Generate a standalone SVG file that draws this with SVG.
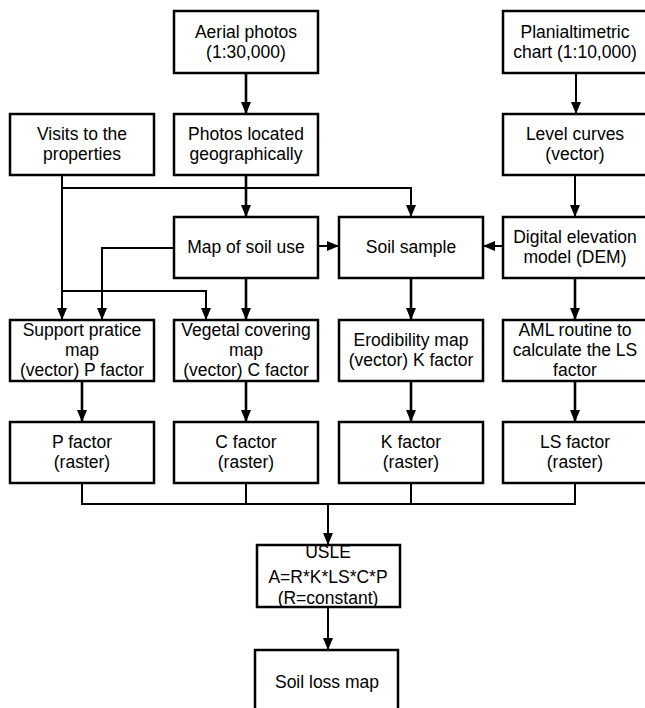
<svg xmlns="http://www.w3.org/2000/svg" width="645" height="708" viewBox="0 0 645 708">
<style>
.box{fill:#fff;stroke:#000;stroke-width:2.5}
.t{font-family:"Liberation Sans",Arial,sans-serif;font-size:17.5px;fill:#000;text-anchor:middle}
.c{fill:none;stroke:#000;stroke-width:2}
.c3{fill:none;stroke:#000;stroke-width:2.6}
</style>
<defs>
<marker id="ah" viewBox="0 0 12 10" refX="12" refY="5" markerWidth="12" markerHeight="10" markerUnits="userSpaceOnUse" orient="auto">
<path d="M0,0 L12,5 L0,10 z" fill="#000"/>
</marker>
</defs>
<rect width="645" height="708" fill="#fff"/>
<g id="connectors">
<path class="c3" d="M246,73 V114" marker-end="url(#ah)"/>
<path class="c" d="M576,73 V114" marker-end="url(#ah)"/>
<path class="c" d="M62,175 V320" marker-end="url(#ah)"/>
<path class="c" d="M62,188 H411 V217" marker-end="url(#ah)"/>
<path class="c3" d="M246,175 V217" marker-end="url(#ah)"/>
<path class="c" d="M575,175 V217" marker-end="url(#ah)"/>
<path class="c" d="M318,246 H339" marker-end="url(#ah)"/>
<path class="c" d="M503,246 H483" marker-end="url(#ah)"/>
<path class="c" d="M174,248 H102 V320" marker-end="url(#ah)"/>
<path class="c" d="M62,291 H206 V320" marker-end="url(#ah)"/>
<path class="c3" d="M246,278 V320" marker-end="url(#ah)"/>
<path class="c3" d="M411,278 V320" marker-end="url(#ah)"/>
<path class="c3" d="M575,278 V320" marker-end="url(#ah)"/>
<path class="c3" d="M82,381 V422" marker-end="url(#ah)"/>
<path class="c3" d="M246,381 V422" marker-end="url(#ah)"/>
<path class="c3" d="M411,381 V422" marker-end="url(#ah)"/>
<path class="c3" d="M575,381 V422" marker-end="url(#ah)"/>
<path class="c" d="M82,483 V504 H575 V483 M246,483 V504 M411,483 V504"/>
<path class="c" d="M328,504 V545" marker-end="url(#ah)"/>
<path class="c" d="M328,607 V650" marker-end="url(#ah)"/>
</g>
<g id="aerial"><rect class="box" x="174" y="11" width="144" height="62"/><text class="t" x="246" y="38">Aerial photos</text><text class="t" x="246" y="58">(1:30,000)</text></g>
<g id="planialtimetric"><rect class="box" x="503" y="11" width="144" height="62"/><text class="t" x="575" y="38">Planialtimetric</text><text class="t" x="575" y="58">chart (1:10,000)</text></g>
<g id="visits"><rect class="box" x="10" y="114" width="144" height="61"/><text class="t" x="82" y="140">Visits to the</text><text class="t" x="82" y="160">properties</text></g>
<g id="photos"><rect class="box" x="174" y="114" width="144" height="61"/><text class="t" x="246" y="140">Photos located</text><text class="t" x="246" y="160">geographically</text></g>
<g id="level"><rect class="box" x="503" y="114" width="144" height="61"/><text class="t" x="575" y="140">Level curves</text><text class="t" x="575" y="160">(vector)</text></g>
<g id="mapsoil"><rect class="box" x="174" y="217" width="144" height="61"/><text class="t" x="246" y="253">Map of soil use</text></g>
<g id="soilsample"><rect class="box" x="339" y="217" width="144" height="61"/><text class="t" x="411" y="253">Soil sample</text></g>
<g id="dem"><rect class="box" x="503" y="217" width="144" height="61"/><text class="t" x="575" y="243">Digital elevation</text><text class="t" x="575" y="263">model (DEM)</text></g>
<g id="support"><rect class="box" x="10" y="320" width="144" height="61"/><text class="t" x="82" y="336">Support pratice</text><text class="t" x="82" y="356">map</text><text class="t" x="82" y="376">(vector) P factor</text></g>
<g id="vegetal"><rect class="box" x="174" y="320" width="144" height="61"/><text class="t" x="246" y="336">Vegetal covering</text><text class="t" x="246" y="356">map</text><text class="t" x="246" y="376">(vector) C factor</text></g>
<g id="erodibility"><rect class="box" x="339" y="320" width="144" height="61"/><text class="t" x="411" y="346">Erodibility map</text><text class="t" x="411" y="366">(vector) K factor</text></g>
<g id="aml"><rect class="box" x="503" y="320" width="144" height="61"/><text class="t" x="575" y="336">AML routine to</text><text class="t" x="575" y="356">calculate the LS</text><text class="t" x="575" y="376">factor</text></g>
<g id="pfactor"><rect class="box" x="10" y="422" width="144" height="61"/><text class="t" x="82" y="448">P factor</text><text class="t" x="82" y="468">(raster)</text></g>
<g id="cfactor"><rect class="box" x="174" y="422" width="144" height="61"/><text class="t" x="246" y="448">C factor</text><text class="t" x="246" y="468">(raster)</text></g>
<g id="kfactor"><rect class="box" x="339" y="422" width="144" height="61"/><text class="t" x="411" y="448">K factor</text><text class="t" x="411" y="468">(raster)</text></g>
<g id="lsfactor"><rect class="box" x="503" y="422" width="144" height="61"/><text class="t" x="575" y="448">LS factor</text><text class="t" x="575" y="468">(raster)</text></g>
<g id="usle"><rect class="box" x="257" y="545" width="143" height="62"/><text class="t" x="328" y="558">USLE</text><text class="t" x="328" y="583">A=R*K*LS*C*P</text><text class="t" x="328" y="604">(R=constant)</text></g>
<g id="soilloss"><rect class="box" x="255" y="650" width="143" height="62"/><text class="t" x="327" y="688">Soil loss map</text></g>
</svg>
